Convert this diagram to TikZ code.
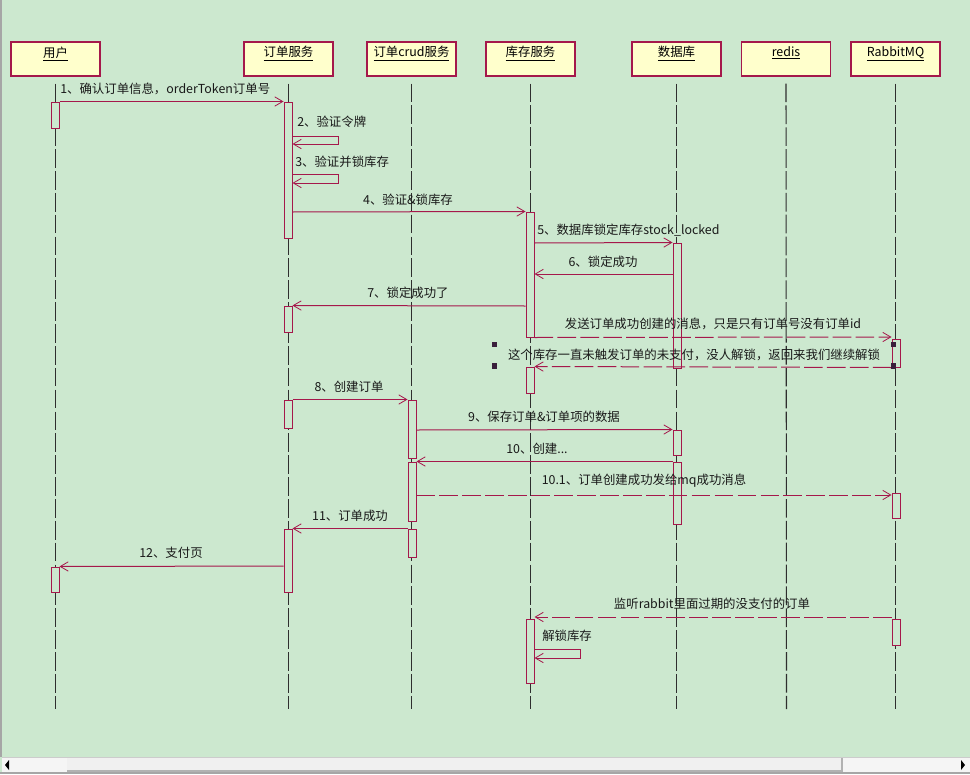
\documentclass[tikz,border=0pt]{standalone}
\usepackage{fontspec}
\setmainfont{Noto Sans CJK SC}
\usetikzlibrary{arrows.meta,fit}
\definecolor{canvas}{HTML}{CCE8CF}
\definecolor{headfill}{HTML}{FFFFCC}
\definecolor{umlred}{HTML}{A5184B}
\definecolor{lifegray}{HTML}{2E2E2E}
\definecolor{handlecol}{HTML}{3A1F3C}
\tikzset{
  head/.style={draw=umlred, fill=headfill, line width=0.8pt, minimum width=66.75pt, minimum height=25.5pt, inner sep=0pt},
  headtext/.style={anchor=north, yshift=-3.6pt, inner sep=0pt},
  lifeline/.style={draw=lifegray, line width=0.8pt, dash pattern=on 14pt off 2.4pt},
  actbox/.style={draw=umlred, fill=canvas, line width=0.75pt, inner sep=0pt},
  msg/.style={draw=umlred, line width=0.75pt, -{Straight Barb[length=6pt,width=7pt,line width=0.6pt]}},
  amsg/.style={msg, dash pattern=on 14pt off 3.2pt},
  lbl/.style={inner sep=0pt, text=black!90},
  handle/.style={rectangle, fill=handlecol, minimum width=4.2pt, minimum height=4.2pt, inner sep=0pt},
}
\begin{document}
\begin{tikzpicture}[x=0.75pt,y=-0.75pt,font=\fontsize{9.3}{11}\selectfont]
\useasboundingbox (0,0) rectangle (970,774);
\fill[canvas] (0,0) rectangle (970,774);
% window frame on the left
\fill[gray!70] (0,0) rectangle (2,757);

% participants
\node[head, label={[headtext]north:\underline{用户}}] (user) at (55.5,59) {};
\node[head, label={[headtext]north:\underline{订单服务}}] (order) at (288.5,59) {};
\node[head, label={[headtext]north:\underline{订单crud服务}}] (crud) at (411.5,59) {};
\node[head, label={[headtext]north:\underline{库存服务}}] (stock) at (530.5,59) {};
\node[head, label={[headtext]north:\underline{数据库}}] (db) at (676.5,59) {};
\node[head, label={[headtext]north:\underline{redis}}] (redis) at (786,59) {};
\node[head, label={[headtext]north:\underline{RabbitMQ}}] (mq) at (895.5,59) {};

% lifeline ends
\coordinate (userEnd) at (55.5,709);
\coordinate (orderEnd) at (288.5,709);
\coordinate (crudEnd) at (411.5,709);
\coordinate (stockEnd) at (530.5,709);
\coordinate (dbEnd) at (676.5,709);
\coordinate (redisEnd) at (786.5,709);
\coordinate (mqEnd) at (895.5,709);

\foreach \p in {user,order,crud,stock,db,redis,mq}
  \draw[lifeline] ([yshift=-5.25pt]\p.south) -- (\p End);

% activation bars
\node[actbox, fit={(51,102)(59,128)}] (ua1) {};
\node[actbox, fit={(51,567)(59,592)}] (ua2) {};
\node[actbox, fit={(284,102)(292,238)}] (oa1) {};
\node[actbox, fit={(284,306)(292,332)}] (oa2) {};
\node[actbox, fit={(284,400)(292,428)}] (oa3) {};
\node[actbox, fit={(284,529)(292,592)}] (oa4) {};
\node[actbox, fit={(408,400)(416,458)}] (ca1) {};
\node[actbox, fit={(408,462)(416,521)}] (ca2) {};
\node[actbox, fit={(408,529)(416,557)}] (ca3) {};
\node[actbox, fit={(526,212)(534,337)}] (sa1) {};
\node[actbox, fit={(526,367)(534,393)}] (sa2) {};
\node[actbox, fit={(526,619)(534,683)}] (sa3) {};
\node[actbox, fit={(673,243)(681,368)}] (da1) {};
\node[actbox, fit={(673,430)(681,455)}] (da2) {};
\node[actbox, fit={(673,462)(681,524)}] (da3) {};
\node[actbox, fit={(892,339)(900,367)}] (ra1) {};
\node[actbox, fit={(892,493)(900,518)}] (ra2) {};
\node[actbox, fit={(892,619)(900,645)}] (ra3) {};

% messages
\draw[msg] (ua1.north east) -- (oa1.north west);
\draw[msg] (oa1.east |- 0,136) -- ++(46,0) -- ++(0,8) -- (oa1.east |- 0,144);
\draw[msg] (oa1.east |- 0,174) -- ++(46,0) -- ++(0,9) -- (oa1.east |- 0,183);
\draw[msg] (oa1.east |- 0,212) -- (sa1.north west);
\draw[msg] (sa1.east |- 0,243) -- (da1.north west);
\draw[msg] (da1.west |- 0,274) -- (sa1.east |- 0,274);
\draw[msg] (sa1.west |- 0,306) -- (oa2.north east);
\draw[amsg] (sa1.south east) -- (ra1.west |- 0,337);
\draw[amsg] (ra1.south west) -- (sa2.north east);
\draw[msg] (oa3.north east) -- (ca1.north west);
\draw[msg] (ca1.east |- 0,430) -- (da2.north west);
\draw[msg] (da3.north west) -- (ca2.north east);
\draw[amsg] (ca2.east |- 0,495) -- (ra2.west |- 0,495);
\draw[msg] (ca3.north west) -- (oa4.north east);
\draw[msg] (oa4.west |- 0,566) -- (ua2.north east);
\draw[amsg] (ra3.west |- 0,617) -- (sa3.east |- 0,617);
\draw[msg] (sa3.east |- 0,649) -- ++(46,0) -- ++(0,9) -- (sa3.east |- 0,658);

% message labels
\node[lbl, anchor=west] (l1) at (60,89) {1、确认订单信息，orderToken订单号};
\node[lbl, anchor=west] (l2) at (297,122) {2、验证令牌};
\node[lbl, anchor=west] (l3) at (295,162) {3、验证并锁库存};
\node[lbl] (l4) at (408,200) {4、验证\&锁库存};
\node[lbl, anchor=west] (l5) at (537,230) {5、数据库锁定库存stock\_locked};
\node[lbl] (l6) at (603,262) {6、锁定成功};
\node[lbl] (l7) at (408,293) {7、锁定成功了};
\node[lbl] (lsend) at (713,324) {发送订单成功创建的消息，只是只有订单号没有订单id};
\node[lbl] (lback) at (694,355) {这个库存一直未触发订单的未支付，没人解锁，返回来我们继续解锁};
\node[lbl] (l8) at (349,387) {8、创建订单};
\node[lbl] (l9) at (544,417) {9、保存订单\&订单项的数据};
\node[lbl] (l10) at (537,449) {10、创建...};
\node[lbl] (l101) at (644,481) {10.1、订单创建成功发给mq成功消息};
\node[lbl] (l11) at (350,516) {11、订单成功};
\node[lbl] (l12) at (171,553) {12、支付页};
\node[lbl] (llisten) at (712,604) {监听rabbit里面过期的没支付的订单};
\node[lbl, anchor=west] (lunlock) at (542,636) {解锁库存};

% selection handles around the return message
\node[handle] (h1) at (494.5,344.5) {};
\node[handle] (h2) at (494.5,366) {};
\node[handle] (h3) at (893.5,344.5) {};
\node[handle] (h4) at (893.5,366) {};

% horizontal scroll bar
\fill[gray!8] (2,757) rectangle (970,773);
\draw[gray!40, line width=0.75pt] (2,757) -- (970,757);
\fill[gray!12] (67,758) rectangle (842,771);
\draw[gray!60, line width=0.9pt] (67,771) -- (842,771) -- (842,758);
\fill[black] (9,760) -- (9,770) -- (5,765) -- cycle;
\fill[black] (961,760) -- (961,770) -- (965,765) -- cycle;
\draw[gray!70, line width=0.9pt] (0,773) -- (970,773);
\end{tikzpicture}
\end{document}
